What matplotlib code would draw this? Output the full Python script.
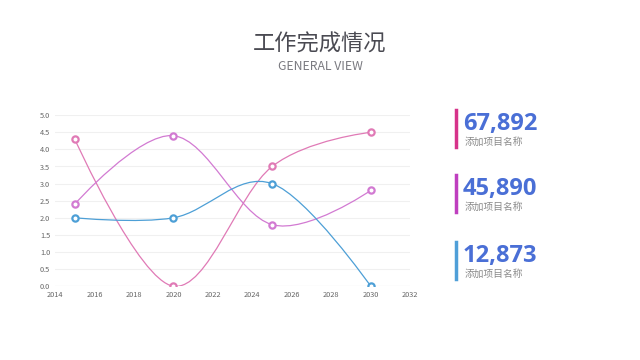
import numpy as np
import matplotlib
matplotlib.use('Agg')
import matplotlib.pyplot as plt
from matplotlib.path import Path
from matplotlib.patches import PathPatch

plt.rcParams['font.family'] = ['Noto Sans CJK SC', 'DejaVu Sans']

# data
years = [2015, 2020, 2025, 2030]
series_blue = [2.0, 2.0, 3.0, 0.0]
series_pink = [4.3, 0.0, 3.5, 4.5]
series_violet = [2.4, 4.4, 1.8, 2.8]

stat_values = ['67,892', '45,890', '12,873']
stat_labels = ['添加项目名称', '添加项目名称', '添加项目名称']
stat_colors = ['#d6338a', '#bf3fbf', '#4f9fd8']

TITLE = '工作完成情况'
SUBTITLE = 'GENERAL VIEW'


def smooth_path(xs, ys, k=0.35):
    # cardinal-style bezier through the points
    xs = np.asarray(xs, float)
    ys = np.asarray(ys, float)
    n = len(xs)
    verts = [(xs[0], ys[0])]
    codes = [Path.MOVETO]
    for i in range(n - 1):
        p0 = np.array([xs[max(i - 1, 0)], ys[max(i - 1, 0)]])
        p1 = np.array([xs[i], ys[i]])
        p2 = np.array([xs[i + 1], ys[i + 1]])
        p3 = np.array([xs[min(i + 2, n - 1)], ys[min(i + 2, n - 1)]])
        c1 = p1 + (p2 - p0) * k / 2 if i > 0 else p1
        c2 = p2 - (p3 - p1) * k / 2 if i < n - 2 else p2
        verts += [tuple(c1), tuple(c2), tuple(p2)]
        codes += [Path.CURVE4] * 3
    return Path(verts, codes)


fig = plt.figure(figsize=(6.4, 3.6), dpi=100)
ax = fig.add_axes([0.086, 0.205, 0.555, 0.475])

for ys, col in [(series_pink, '#e07ab6'), (series_violet, '#d27ad2'), (series_blue, '#4d9fd6')]:
    ax.add_patch(PathPatch(smooth_path(years, ys), facecolor='none', edgecolor=col, lw=0.9))
    ax.plot(years, ys, ls='none', marker='o', ms=4.5, mfc='white', mec=col, mew=1.6, zorder=5)

ax.set_xlim(2014, 2032)
ax.set_ylim(0, 5)
ax.set_xticks(np.arange(2014, 2033, 2))
ax.set_yticks(np.arange(0, 5.01, 0.5))
ax.set_yticklabels(['%.1f' % v for v in np.arange(0, 5.01, 0.5)])
ax.grid(axis='y', color='#f0f0f0', lw=0.8)
ax.set_axisbelow(True)
for s in ax.spines.values():
    s.set_visible(False)
ax.axhline(0, color='#e6e6e6', lw=0.8, zorder=0)
ax.tick_params(length=0, labelsize=5.3, labelcolor='#666666', pad=3.5)

fig.text(0.5, 0.878, TITLE, ha='center', va='center', fontsize=16, color='#4a4a52')
fig.text(0.5, 0.815, SUBTITLE, ha='center', va='center', fontsize=8.8, color='#7a7a80')

bar_tops = [110, 175, 242]
for top, val, lab, col in zip(bar_tops, stat_values, stat_labels, stat_colors):
    fig.add_artist(plt.Line2D([456 / 640, 456 / 640], [1 - top / 360, 1 - (top + 37) / 360],
                              color=col, lw=2.5))
    fig.text(463 / 640, 1 - (top + 14) / 360, val, ha='left', va='center', fontsize=17,
             fontweight='bold', color='#4a6fd6', family=['Open Sans', 'DejaVu Sans'])
    fig.text(465 / 640, 1 - (top + 32) / 360, lab, ha='left', va='center', fontsize=7,
             color='#8a8a8a')

fig.savefig('out.png', dpi=100, facecolor='white')
